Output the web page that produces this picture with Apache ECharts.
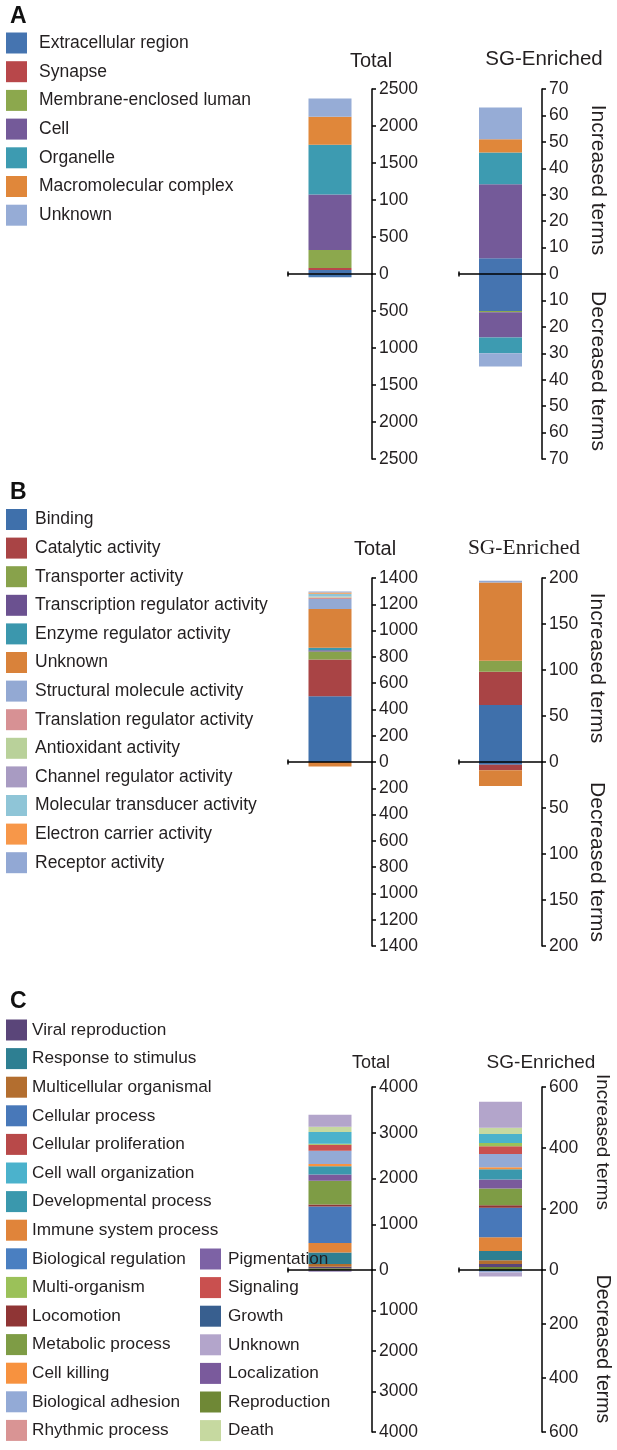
<!DOCTYPE html>
<html><head><meta charset="utf-8">
<script src="https://cdn.jsdelivr.net/npm/echarts@6/dist/echarts.min.js"></script>
<style>html,body{margin:0;padding:0;background:#fff;width:617px;height:1450px;overflow:hidden}
.p{position:absolute;left:0;width:617px}</style></head>
<body>
<div id="pA" class="p" style="top:0;height:480px"></div>
<div id="pB" class="p" style="top:480px;height:495px"></div>
<div id="pC" class="p" style="top:975px;height:475px"></div>
<script>
// ---------- Panel A data ----------
const A_terms = ['Extracellular region','Synapse','Membrane-enclosed luman','Cell','Organelle','Macromolecular complex','Unknown'];
const A_colors = ['#4574b0','#b8474a','#8ca84d','#745a99','#3d9bb1','#e0873a','#96acd6'];
const A_totalUp = [55, 25, 246, 750, 670, 380, 245];
const A_totalDown = [45, 0, 0, 0, 0, 0, 0];
const A_sgUp = [6, 0, 0, 28, 12, 5, 12];
const A_sgDown = [14, 0, 0.5, 9.5, 6, 0, 5];
const A_totalTicks = ['2500','2000','1500','100','500','0','500','1000','1500','2000','2500'];
const A_sgTicks = ['70','60','50','40','30','20','10','0','10','20','30','40','50','60','70'];

// ---------- Panel B data ----------
const B_terms = ['Binding','Catalytic activity','Transporter activity','Transcription regulator activity','Enzyme regulator activity','Unknown','Structural molecule activity','Translation regulator activity','Antioxidant activity','Channel regulator activity','Molecular transducer activity','Electron carrier activity','Receptor activity'];
const B_colors = ['#3f70ab','#a94445','#88a24b','#6b5190','#3b97ad','#d9823a','#93a9d3','#d79194','#b9d19a','#a89bc2','#8fc5d7','#f79749','#92a8d4'];
const B_totalUp = [500, 280, 60, 10, 20, 295, 75, 12, 5, 3, 20, 10, 8];
const B_totalDown = [0, 0, 0, 0, 0, 35, 0, 0, 0, 0, 0, 0, 0];
const B_sgUp = [62, 36, 12, 0, 0, 85, 2, 0, 0, 0, 0, 0, 0];
const B_sgDown = [3, 6, 0, 0, 0, 17, 0, 0, 0, 0, 0, 0, 0];
const B_totalTicks = ['1400','1200','1000','800','600','400','200','0','200','400','600','800','1000','1200','1400'];
const B_sgTicks = ['200','150','100','50','0','50','100','150','200'];

// ---------- Panel C data ----------
const C_terms = ['Viral reproduction','Response to stimulus','Multicellular organismal','Cellular process','Cellular proliferation','Cell wall organization','Developmental process','Immune system process','Biological regulation','Multi-organism','Locomotion','Metabolic process','Cell killing','Biological adhesion','Rhythmic process','Pigmentation','Signaling','Growth','Unknown','Localization','Reproduction','Death'];
const C_colors = ['#5a4579','#2e7f92','#b36e2f','#4878b9','#b84949','#4bb2cc','#3a98ad','#e0843a','#4a7fc1','#9bc159','#8f3535','#7e9c45','#f7923f','#93aad6','#d99494','#7d62a5','#c9504f','#385f8f','#b3a5cb','#7a5a9c','#6f8836','#c6d9a0'];
const C_totalUp = [30, 250, 60, 800, 0, 260, 180, 210, 0, 22, 40, 520, 45, 290, 0, 0, 130, 0, 260, 140, 40, 115];
const C_totalDown = [0, 0, 0, 0, 0, 0, 0, 0, 0, 0, 0, 0, 0, 0, 0, 0, 0, 0, 50, 0, 0, 0];
const C_sgUp = [10, 30, 12, 97, 0, 30, 33, 45, 0, 10, 8, 55, 7, 43, 0, 0, 26, 0, 86, 30, 10, 20];
const C_sgDown = [0, 0, 0, 0, 0, 0, 4, 0, 0, 0, 0, 0, 0, 5, 0, 0, 0, 0, 15, 0, 0, 0];
const C_stackOrder = ['Reproduction','Viral reproduction','Growth','Multicellular organismal','Response to stimulus','Immune system process','Cellular process','Cellular proliferation','Locomotion','Metabolic process','Localization','Pigmentation','Developmental process','Cell killing','Biological regulation','Biological adhesion','Rhythmic process','Signaling','Multi-organism','Cell wall organization','Death','Unknown'];
const C_totalTicks = ['4000','3000','2000','1000','0','1000','2000','3000','4000'];
const C_sgTicks = ['600','400','200','0','200','400','600'];

const FONT = "'Liberation Sans', Arial, sans-serif";
const TXT = '#231f20';

// each bar column is drawn in two stacked grids: the increased half (0..max) and the decreased half (-max..0)
function buildPanel(id, off, c) {
  const chart = echarts.init(document.getElementById(id), null, {renderer: 'canvas'});
  const order = c.order || c.terms;
  const cols = [
    {left: 288, width: 84, max: c.tMax, int: c.tInt, ticks: c.tTicks, up: c.tUp, down: c.tDown},
    {left: 459, width: 83, max: c.sMax, int: c.sInt, ticks: c.sTicks, up: c.sUp, down: c.sDown}
  ];
  const grids = [], xAxes = [], yAxes = [], series = [];
  cols.forEach(col => {
    const nUp = Math.round(col.max / col.int);
    [0, 1].forEach(half => {
      const gi = grids.length;
      grids.push({left: col.left, width: col.width,
        top: (half === 0 ? c.top : c.zero) - off,
        height: half === 0 ? c.zero - c.top : c.bottom - c.zero});
      xAxes.push({type: 'category', gridIndex: gi, data: ['x'], z: 5, position: half === 0 ? 'bottom' : 'top',
        axisLine: half === 0 ? {show: true, onZero: false, lineStyle: {color: '#000', width: 1.5},
          symbol: ['rect', 'none'], symbolSize: [5, 1.5]} : {show: false},
        axisTick: {show: false}, axisLabel: {show: false}, splitLine: {show: false}});
      yAxes.push({type: 'value', gridIndex: gi, position: 'right',
        min: half === 0 ? 0 : -col.max, max: half === 0 ? col.max : 0, interval: col.int,
        axisLine: {show: true, onZero: false, lineStyle: {color: '#000', width: 1.5}},
        axisTick: {show: true, length: 4, lineStyle: {color: '#000', width: 1.5}},
        splitLine: {show: false},
        axisLabel: {margin: 7, color: TXT, fontFamily: FONT, fontSize: c.tickFont,
          formatter: v => half === 0 ? col.ticks[Math.round((col.max - v) / col.int)]
                                     : (v === 0 ? '' : col.ticks[nUp + Math.round(-v / col.int)])}});
      const vals = half === 0 ? col.up : col.down;
      order.forEach(name => {
        const k = c.terms.indexOf(name);
        series.push({type: 'bar', name, xAxisIndex: gi, yAxisIndex: gi, stack: 's' + gi, barWidth: 43,
          itemStyle: {color: c.colors[k]}, silent: true,
          data: [vals[k] ? (half === 0 ? vals[k] : -vals[k]) : null]});
      });
    });
  });
  const legends = c.legends.map(L => ({
    orient: 'vertical', left: L.left, top: L.top - off, height: 460, padding: 0,
    itemWidth: 21, itemHeight: 21, itemGap: L.gap, icon: 'rect', selectedMode: false, data: L.data,
    textStyle: {fontFamily: FONT, fontSize: L.font, color: TXT, padding: [0, 0, 0, L.pad]}
  }));
  const g = [];
  g.push({type: 'text', x: 10, y: c.letterY - off,
    style: {text: c.letter, font: 'bold 23px ' + FONT, fill: '#111', verticalAlign: 'middle'}});
  c.titles.forEach(t => g.push({type: 'text', x: t.x, y: t.y - off,
    style: {text: t.text, font: t.font, fill: TXT, align: 'center', verticalAlign: 'middle'}}));
  c.names.forEach(t => g.push({type: 'text', x: t.x, y: t.y - off, rotation: -Math.PI / 2,
    style: {text: t.text, font: t.font, fill: TXT, align: 'center', verticalAlign: 'middle'}}));
  chart.setOption({
    animation: false, grid: grids, xAxis: xAxes, yAxis: yAxes, series, legend: legends, graphic: g
  });
}

buildPanel('pA', 0, {
  terms: A_terms, colors: A_colors, tUp: A_totalUp, tDown: A_totalDown, sUp: A_sgUp, sDown: A_sgDown,
  tMax: 2500, tInt: 500, tTicks: A_totalTicks, sMax: 70, sInt: 10, sTicks: A_sgTicks,
  top: 89, zero: 274, bottom: 459, tickFont: 17.5, letter: 'A', letterY: 17,
  titles: [{text: 'Total', x: 371, y: 61, font: '20px ' + FONT}, {text: 'SG-Enriched', x: 544, y: 59, font: '20.5px ' + FONT}],
  names: [{text: 'Increased terms', x: 598, y: 180, font: '21px ' + FONT}, {text: 'Decreased terms', x: 598, y: 371, font: '21px ' + FONT}],
  legends: [{left: 6, top: 32.5, gap: 7.7, font: 17.5, pad: 7, data: A_terms}]
});

buildPanel('pB', 480, {
  terms: B_terms, colors: B_colors, tUp: B_totalUp, tDown: B_totalDown, sUp: B_sgUp, sDown: B_sgDown,
  tMax: 1400, tInt: 200, tTicks: B_totalTicks, sMax: 200, sInt: 50, sTicks: B_sgTicks,
  top: 578, zero: 762, bottom: 946, tickFont: 17.5, letter: 'B', letterY: 493,
  titles: [{text: 'Total', x: 375, y: 549, font: '20px ' + FONT}, {text: 'SG-Enriched', x: 524, y: 548, font: "21.5px 'Liberation Serif', 'Times New Roman', serif"}],
  names: [{text: 'Increased terms', x: 597, y: 668, font: '21px ' + FONT}, {text: 'Decreased terms', x: 597, y: 862, font: '21px ' + FONT}],
  legends: [{left: 6, top: 509, gap: 7.6, font: 17.5, pad: 3, data: B_terms}]
});

buildPanel('pC', 975, {
  terms: C_terms, colors: C_colors, order: C_stackOrder, tUp: C_totalUp, tDown: C_totalDown, sUp: C_sgUp, sDown: C_sgDown,
  tMax: 4000, tInt: 1000, tTicks: C_totalTicks, sMax: 600, sInt: 200, sTicks: C_sgTicks,
  top: 1087, zero: 1270, bottom: 1432, tickFont: 17.5, letter: 'C', letterY: 1002,
  titles: [{text: 'Total', x: 371, y: 1063, font: '18px ' + FONT}, {text: 'SG-Enriched', x: 541, y: 1063, font: '19px ' + FONT}],
  names: [{text: 'Increased terms', x: 602, y: 1142, font: '19px ' + FONT}, {text: 'Decreased terms', x: 602, y: 1349, font: '19.5px ' + FONT}],
  legends: [
    {left: 6, top: 1019.5, gap: 7.6, font: 17.2, pad: 0, data: C_terms.slice(0, 15)},
    {left: 200, top: 1248.5, gap: 7.6, font: 17.2, pad: 2, data: C_terms.slice(15)}
  ]
});
</script>
</body></html>
